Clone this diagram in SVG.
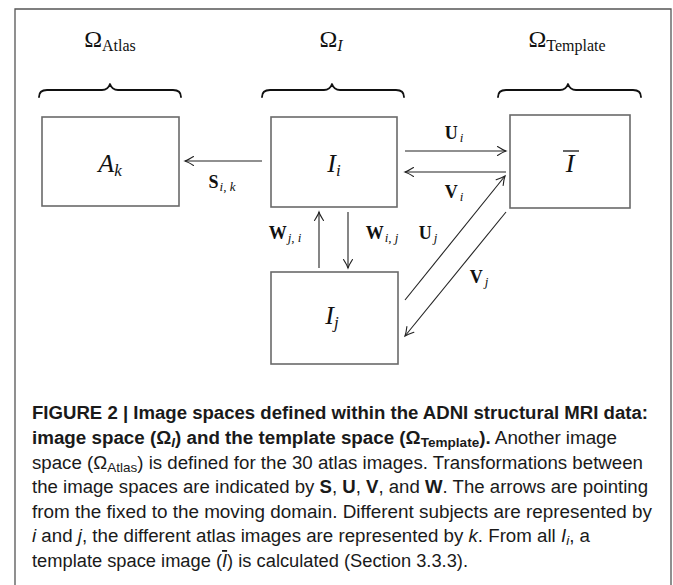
<svg xmlns="http://www.w3.org/2000/svg" width="673" height="585" viewBox="0 0 673 585">
  <style>
    .frame { fill: none; stroke: #555; stroke-width: 1.3; }
    .box { fill: #fff; stroke: #6a6a6a; stroke-width: 1.6; }
    .brace { fill: none; stroke: #111; stroke-width: 1.8; stroke-linecap: round; stroke-linejoin: round; }
    .conn { fill: none; stroke: #222; stroke-width: 1.1; marker-end: url(#head); }
    .math { font-family: "Liberation Serif", "DejaVu Serif", serif; fill: #111; }
    .it { font-style: italic; }
    .vec { font-weight: bold; }
    .cap { font-family: "Liberation Sans Narrow", "Liberation Sans", Arial, sans-serif; font-size: 18px; fill: #1a1a1a; }
    .b { font-weight: bold; }
  </style>
  <defs>
    <marker id="head" viewBox="-10 -6 12 12" refX="0" refY="0" markerWidth="12" markerHeight="12" markerUnits="userSpaceOnUse" orient="auto">
      <path d="M -8.5,-4.5 Q -3,-1 0,0 Q -3,1 -8.5,4.5" fill="none" stroke="#222" stroke-width="1.1" stroke-linecap="round"/>
    </marker>
  </defs>

  <!-- figure frame, open at the bottom -->
  <path class="frame" d="M 15,590 L 15,9 L 671,9 L 671,590"/>

  <!-- domain headings -->
  <g id="heading-atlas">
    <text class="math" x="110" y="47" text-anchor="middle" font-size="24">Ω<tspan font-size="16" dy="4">Atlas</tspan></text>
    <path class="brace" d="M 39,97 Q 39,90 47,90 L 102,90 Q 108,90 110,84 Q 112,90 118,90 L 173,90 Q 181,90 181,97"/>
  </g>
  <g id="heading-image">
    <text class="math" x="331" y="47" text-anchor="middle" font-size="24">Ω<tspan class="it" font-size="16" dy="4">I</tspan></text>
    <path class="brace" d="M 262,97 Q 262,90 270,90 L 324,90 Q 330,90 332,84 Q 334,90 340,90 L 396,90 Q 404,90 404,97"/>
  </g>
  <g id="heading-template">
    <text class="math" x="567" y="47" text-anchor="middle" font-size="24">Ω<tspan font-size="16" dy="4">Template</tspan></text>
    <path class="brace" d="M 498,97 Q 498,90 506,90 L 560,90 Q 566,90 568,84 Q 570,90 576,90 L 633,90 Q 641,90 641,97"/>
  </g>

  <!-- nodes -->
  <g id="node-atlas">
    <rect class="box" x="42" y="117" width="137" height="89"/>
    <text class="math it" x="110" y="172" text-anchor="middle" font-size="26">A<tspan font-size="17" dy="4">k</tspan></text>
  </g>
  <g id="node-image-i">
    <rect class="box" x="271" y="117" width="126" height="90"/>
    <text class="math it" x="334" y="172" text-anchor="middle" font-size="26">I<tspan font-size="17" dy="4">i</tspan></text>
  </g>
  <g id="node-template">
    <rect class="box" x="510" y="115" width="120" height="93"/>
    <text class="math it" x="570" y="172" text-anchor="middle" font-size="26">I</text>
    <line x1="563" y1="151" x2="579" y2="151" stroke="#111" stroke-width="1.3"/>
  </g>
  <g id="node-image-j">
    <rect class="box" x="271" y="272" width="127" height="92"/>
    <text class="math it" x="332" y="324" text-anchor="middle" font-size="26">I<tspan font-size="17" dy="4">j</tspan></text>
  </g>

  <!-- transformations between spaces -->
  <g id="connectors">
    <line class="conn" x1="262" y1="161" x2="185" y2="161"/>
    <line class="conn" x1="405" y1="151" x2="506" y2="151"/>
    <line class="conn" x1="506" y1="172" x2="405" y2="172"/>
    <line class="conn" x1="319" y1="268" x2="319" y2="212"/>
    <line class="conn" x1="348" y1="212" x2="348" y2="268"/>
    <line class="conn" x1="405" y1="300" x2="505" y2="176"/>
    <line class="conn" x1="506" y1="212" x2="405" y2="336"/>

    <text class="math" x="222" y="188" text-anchor="middle" font-size="18"><tspan class="vec">S</tspan><tspan class="it" font-size="13" dy="3" dx="1">i</tspan><tspan font-size="13">,  </tspan><tspan class="it" font-size="13">k</tspan></text>
    <text class="math" x="454" y="139" text-anchor="middle" font-size="18"><tspan class="vec">U</tspan><tspan class="it" font-size="13" dy="3" dx="2">i</tspan></text>
    <text class="math" x="454" y="198" text-anchor="middle" font-size="18"><tspan class="vec">V</tspan><tspan class="it" font-size="13" dy="3" dx="2">i</tspan></text>
    <text class="math" x="285" y="239" text-anchor="middle" font-size="18"><tspan class="vec">W</tspan><tspan class="it" font-size="13" dy="3" dx="1">j</tspan><tspan font-size="13">,  </tspan><tspan class="it" font-size="13">i</tspan></text>
    <text class="math" x="382" y="239" text-anchor="middle" font-size="18"><tspan class="vec">W</tspan><tspan class="it" font-size="13" dy="3" dx="1">i</tspan><tspan font-size="13">,  </tspan><tspan class="it" font-size="13">j</tspan></text>
    <text class="math" x="428" y="239" text-anchor="middle" font-size="18"><tspan class="vec">U</tspan><tspan class="it" font-size="13" dy="3" dx="2">j</tspan></text>
    <text class="math" x="479" y="283" text-anchor="middle" font-size="18"><tspan class="vec">V</tspan><tspan class="it" font-size="13" dy="3" dx="2">j</tspan></text>
  </g>

  <!-- caption -->
  <g id="caption">
    <text class="cap b" x="32" y="419" textLength="616" lengthAdjust="spacingAndGlyphs">FIGURE 2 | Image spaces defined within the ADNI structural MRI data:</text>
    <text class="cap" x="32" y="444" textLength="585" lengthAdjust="spacingAndGlyphs"><tspan class="b">image space (Ω</tspan><tspan class="b" font-style="italic" font-size="13" dy="3">I</tspan><tspan class="b" dy="-3">) and the template space (Ω</tspan><tspan class="b" font-size="13" dy="3">Template</tspan><tspan class="b" dy="-3">).</tspan> Another image</text>
    <text class="cap" x="32" y="469" textLength="611" lengthAdjust="spacingAndGlyphs">space (Ω<tspan font-size="13" dy="3">Atlas</tspan><tspan dy="-3">) is defined for the 30 atlas images. Transformations between</tspan></text>
    <text class="cap" x="32" y="493" textLength="616" lengthAdjust="spacingAndGlyphs">the image spaces are indicated by <tspan class="b">S</tspan>, <tspan class="b">U</tspan>, <tspan class="b">V</tspan>, and <tspan class="b">W</tspan>. The arrows are pointing</text>
    <text class="cap" x="32" y="518" textLength="620" lengthAdjust="spacingAndGlyphs">from the fixed to the moving domain. Different subjects are represented by</text>
    <text class="cap" x="32" y="542" textLength="558" lengthAdjust="spacingAndGlyphs"><tspan font-style="italic">i</tspan> and <tspan font-style="italic">j</tspan>, the different atlas images are represented by <tspan font-style="italic">k</tspan>. From all <tspan font-style="italic">I</tspan><tspan font-style="italic" font-size="13" dy="3">i</tspan><tspan dy="-3">, a</tspan></text>
    <text class="cap" x="32" y="567" textLength="436" lengthAdjust="spacingAndGlyphs">template space image (<tspan font-style="italic" text-decoration="overline">I</tspan>) is calculated (Section 3.3.3).</text>
  </g>
</svg>
